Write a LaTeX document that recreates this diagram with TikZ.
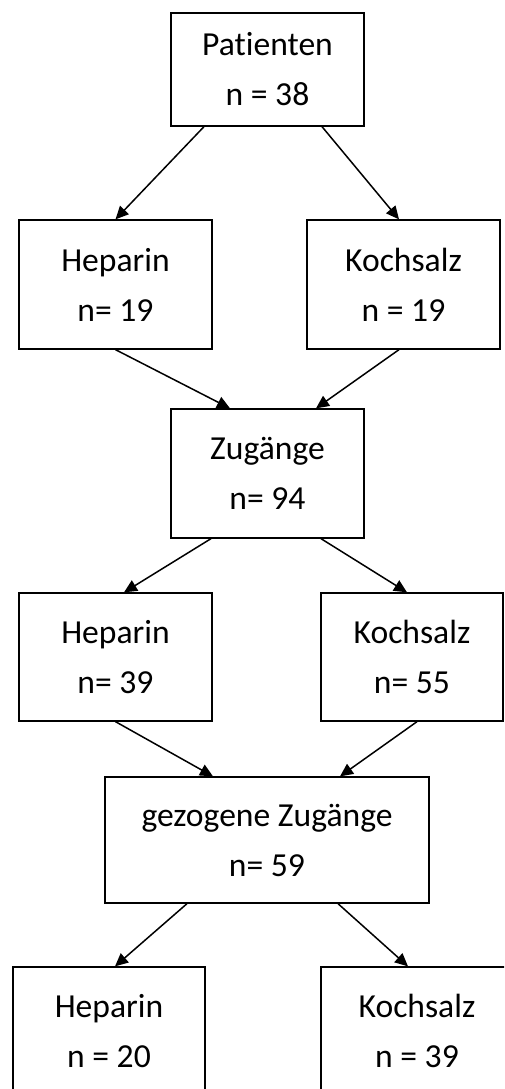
\documentclass[tikz,border=0pt]{standalone}
\usepackage{fontspec}
\setmainfont[Ligatures={NoCommon}]{Carlito}
\usetikzlibrary{arrows.meta, positioning}
\definecolor{mainBlack}{gray}{0.0}

\tikzset{
  box/.style={draw=mainBlack, line width=1.3pt, rectangle, inner sep=0pt,
    minimum width=193pt, minimum height=129pt, align=center,
    font=\fontsize{33.6}{50}\selectfont},
  arr/.style={-{Triangle[length=13pt,width=12pt]}, line width=1.5pt, mainBlack}
}

\begin{document}
\begin{tikzpicture}[x=1pt, y=-1pt]
    \useasboundingbox (0,0) rectangle (504,1089);
    \clip (0,0) rectangle (504,1089);

    % Patienten
    \node[box, minimum height=113pt] (pat) at (267.5,69.5) {Patienten\\n = 38};
    \node[box] (hepA) at (115.5,284.5) {Heparin\\n= 19};
    \node[box] (kochA) at (403.5,284.5) {Kochsalz\\n = 19};

    % Zugaenge
    \node[box] (zug) at (267.5,473.5) {Zugänge\\n= 94};
    \node[box, minimum height=128pt] (hepB) at (115.5,657) {Heparin\\n= 39};
    \node[box, minimum width=182pt, minimum height=128pt] (kochB) at (412,657) {Kochsalz\\n= 55};

    % gezogene Zugaenge
    \node[box, minimum width=324pt, minimum height=126pt] (gez) at (267,840) {gezogene Zugänge\\n= 59};
    \node[box, minimum width=192pt, minimum height=128pt] (hepC) at (109,1031) {Heparin\\n = 20};
    \node[box, minimum width=192pt, minimum height=128pt] (kochC) at (417,1031) {Kochsalz\\n = 39};

    \draw[arr] ([xshift=-63.5pt]pat.south) -- (hepA.north);
    \draw[arr] ([xshift=54.5pt]pat.south) -- ([xshift=-4.5pt]kochA.north);

    \draw[arr] (hepA.south) -- ([xshift=-37.5pt]zug.north);
    \draw[arr] ([xshift=-4.5pt]kochA.south) -- ([xshift=48.5pt]zug.north);

    \draw[arr] ([xshift=-56.5pt]zug.south) -- ([xshift=8.5pt]hepB.north);
    \draw[arr] ([xshift=53.5pt]zug.south) -- ([xshift=-5pt]kochB.north);

    \draw[arr] (hepB.south) -- ([xshift=-54pt]gez.north);
    \draw[arr] ([xshift=5pt]kochB.south) -- ([xshift=73pt]gez.north);

    \draw[arr] ([xshift=-80pt]gez.south) -- ([xshift=6pt]hepC.north);
    \draw[arr] ([xshift=71pt]gez.south) -- ([xshift=-9pt]kochC.north);
\end{tikzpicture}
\end{document}
